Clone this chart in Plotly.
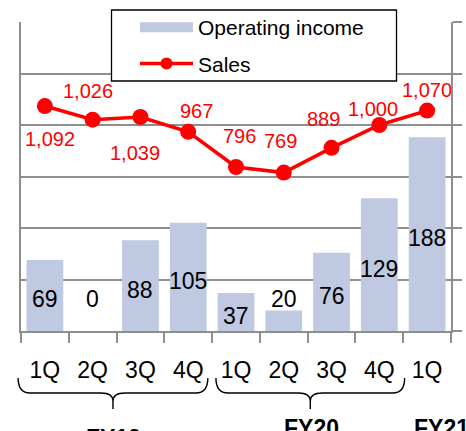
import plotly.graph_objects as go

# ---------------- data ----------------
quarters = ["FY19 1Q", "FY19 2Q", "FY19 3Q", "FY19 4Q",
            "FY20 1Q", "FY20 2Q", "FY20 3Q", "FY20 4Q", "FY21 1Q"]
tick_labels = ["1Q", "2Q", "3Q", "4Q", "1Q", "2Q", "3Q", "4Q", "1Q"]
operating_income = [69, 0, 88, 105, 37, 20, 76, 129, 188]
sales = [1092, 1026, 1039, 967, 796, 769, 889, 1000, 1070]
fiscal_years = ["FY19", "FY20", "FY21"]

# ---------------- style ----------------
FONT = "Arial, Liberation Sans, sans-serif"
BAR_COLOR = "#BFC9E1"
RED = "#FF0000"
GRID = "#8E8E8E"

W, H = 466, 431
ML, MR, MT, MB = 21, 15, 22, 100
PW, PH = W - ML - MR, H - MT - MB
n = len(quarters)

def px_x(idx):           # category index -> paper x
    return (idx + 0.5) / n

def px_y(offset_px):     # pixels below plot bottom -> paper y
    return -offset_px / PH

def pix_to_paper(x, y):  # absolute pixel -> paper
    return (x - ML) / PW, (MT + PH - y) / PH

fig = go.Figure()

fig.add_trace(go.Bar(
    x=quarters, y=operating_income, name="Operating income",
    marker=dict(color=BAR_COLOR, line=dict(width=0)),
    showlegend=False, yaxis="y",
))

fig.add_trace(go.Scatter(
    x=quarters, y=sales, name="Sales", mode="lines+markers",
    line=dict(color=RED, width=3.5), marker=dict(color=RED, size=16),
    showlegend=False, yaxis="y2", cliponaxis=False,
))

# legend proxies (legend-only entries)
fig.add_trace(go.Scatter(
    x=[None], y=[None], name="Operating income", mode="lines",
    line=dict(color=BAR_COLOR, width=14), legendgroup="a", yaxis="y",
))
fig.add_trace(go.Scatter(
    x=[None], y=[None], name="Sales", mode="lines+markers",
    line=dict(color=RED, width=3.5), marker=dict(color=RED, size=12),
    legendgroup="b", yaxis="y",
))

# bar value labels (centered in bar; small bars get label lifted)
label_y = [v / 2 if v >= 30 else 35 for v in operating_income]
for q, v, ly in zip(quarters, operating_income, label_y):
    fig.add_annotation(
        x=q, y=ly, xref="x", yref="y", text=str(v), showarrow=False,
        yshift=-4, font=dict(family=FONT, size=23, color="black"),
    )

# sales labels
shifts = [(5, -33), (-5, 29), (-5, -36), (8, 21), (3, 31),
          (-3, 32), (-8, 29), (-6, 16), (0, 21)]
for q, v, (dx, dy) in zip(quarters, sales, shifts):
    fig.add_annotation(
        x=q, y=v, xref="x", yref="y2", text=f"{v:,}", showarrow=False,
        xshift=dx, yshift=dy, font=dict(family=FONT, size=20, color=RED),
    )

# legend frame (drawn as a shape so its size matches the original)
lx0, ly0 = pix_to_paper(111.5, 81)
lx1, ly1 = pix_to_paper(396.5, 10)
fig.add_shape(type="rect", xref="paper", yref="paper",
              x0=lx0, y0=ly0, x1=lx1, y1=ly1, layer="above",
              fillcolor="white", line=dict(color="black", width=1.3))

# braces under fiscal year quarters
def brace(i0, i1, col="black"):
    x0, x1 = px_x(i0), px_x(i1)
    xm = (x0 + x1) / 2
    r = 12 / PW
    yt, yh, ytip, ymid = px_y(47), px_y(62), px_y(78), px_y(70)
    path = (f"M {x0},{yt} Q {x0},{yh} {x0 + r},{yh} "
            f"L {xm - r},{yh} Q {xm},{yh} {xm},{ymid} L {xm},{ytip} "
            f"M {xm},{ymid} Q {xm},{yh} {xm + r},{yh} "
            f"L {x1 - r},{yh} Q {x1},{yh} {x1},{yt}")
    fig.add_shape(type="path", path=path, xref="paper", yref="paper",
                  line=dict(color=col, width=1.4))

brace(-0.56, 3.41)
brace(3.58, 7.53)

fy_pos = [(1.43, 92), (5.57, 82), (8.3, 82)]
for fy, (xi, off) in zip(fiscal_years, fy_pos):
    fig.add_annotation(
        x=px_x(xi), y=px_y(off), xref="paper", yref="paper", text=f"<b>{fy}</b>",
        showarrow=False, yanchor="top", xanchor="center",
        font=dict(family=FONT, size=23, color="black"),
    )

fig.update_layout(
    width=W, height=H, autosize=False,
    margin=dict(l=ML, r=MR, t=MT, b=MB, pad=0, autoexpand=False),
    paper_bgcolor="white", plot_bgcolor="white",
    font=dict(family=FONT, color="black"),
    bargap=0.23,
    showlegend=True,
    legend=dict(
        xref="container", yref="container",
        x=135 / W, y=1 - 7 / H, xanchor="left", yanchor="top",
        bgcolor="rgba(0,0,0,0)", borderwidth=0,
        font=dict(family=FONT, size=21, color="black"),
        tracegroupgap=6, itemwidth=53, traceorder="grouped",
    ),
    xaxis=dict(
        type="category", categoryorder="array", categoryarray=quarters,
        tickmode="array", tickvals=quarters, ticktext=tick_labels,
        tickson="boundaries", ticks="outside", ticklen=10, tickcolor=GRID,
        tickwidth=1.5, showline=True, linecolor=GRID, linewidth=1.5,
        showgrid=False, range=[-0.5, n - 0.5], automargin=False,
        tickfont=dict(family=FONT, size=23, color="black"),
        ticklabelstandoff=18,
    ),
    yaxis=dict(
        range=[0, 300], dtick=50, showgrid=True, gridcolor=GRID, gridwidth=1.5,
        showline=True, linecolor=GRID, linewidth=1.5, zeroline=False,
        showticklabels=False, ticks="", automargin=False,
    ),
    yaxis2=dict(
        range=[0, 1500], dtick=250, overlaying="y", side="right",
        showgrid=False, showline=True, linecolor=GRID, linewidth=1.5,
        zeroline=False, showticklabels=False, ticks="outside", ticklen=9,
        tickcolor=GRID, tickwidth=1.5, automargin=False,
    ),
)

fig.write_html(
    "out.html",
    config={"displayModeBar": False},
    post_script="document.body.style.margin='0px';document.body.style.overflow='hidden';",
)
